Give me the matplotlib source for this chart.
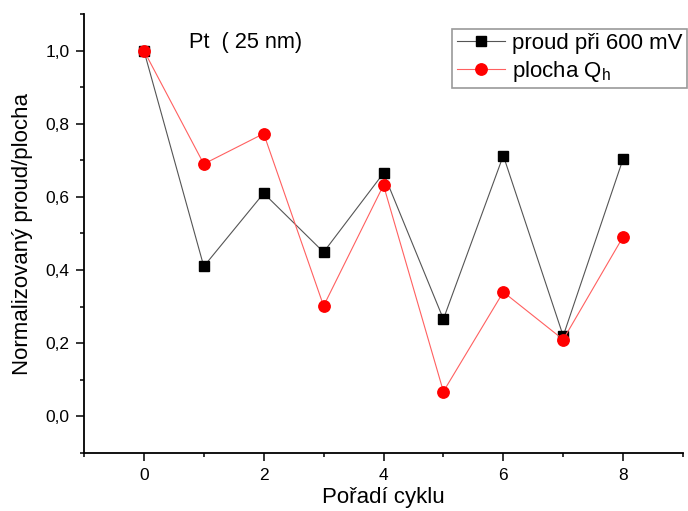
import matplotlib
matplotlib.use("Agg")
import matplotlib.pyplot as plt
from matplotlib.ticker import MultipleLocator, FuncFormatter

plt.rcParams["font.family"] = ["Liberation Sans", "DejaVu Sans"]
plt.rcParams["mathtext.fontset"] = "custom"
plt.rcParams["mathtext.rm"] = "Liberation Sans"
plt.rcParams["mathtext.it"] = "Liberation Sans:italic"

# Cycle number and normalized values
cycles = [0, 1, 2, 3, 4, 5, 6, 7, 8]
proud_600mV = [1.000, 0.410, 0.610, 0.449, 0.665, 0.266, 0.713, 0.220, 0.704]
plocha_Qh = [1.000, 0.690, 0.773, 0.302, 0.632, 0.068, 0.340, 0.210, 0.491]

series_labels = ["proud při 600 mV", "plocha Q$_\\mathregular{h}$"]
title_text = "Pt  ( 25 nm)"
x_label = "Pořadí cyklu"
y_label = "Normalizovaný proud/plocha"

fig = plt.figure(figsize=(6.88, 5.11), dpi=100)
ax = fig.add_axes([84 / 688, 1 - 453 / 511, (683 - 84) / 688, (453 - 14) / 511])

ax.plot(cycles, proud_600mV, color="#555555", lw=0.8, marker="s", ms=6.8,
        mfc="black", mec="black", label=series_labels[0], zorder=3)
ax.plot(cycles, plocha_Qh, color="#ff6060", lw=0.8, marker="o", ms=8.2,
        mfc="red", mec="red", label=series_labels[1], zorder=4)

ax.set_xlim(-1, 9)
ax.set_ylim(-0.1, 1.1)
ax.xaxis.set_major_locator(MultipleLocator(2))
ax.xaxis.set_minor_locator(MultipleLocator(1))
ax.yaxis.set_major_locator(MultipleLocator(0.2))
ax.yaxis.set_minor_locator(MultipleLocator(0.1))
ax.yaxis.set_major_formatter(FuncFormatter(lambda v, p: f"{v:.1f}".replace(".", ",").replace("-0,0", "0,0")))

for side in ("top", "right"):
    ax.spines[side].set_visible(False)
for side in ("left", "bottom"):
    ax.spines[side].set_linewidth(1.3)

ax.tick_params(which="major", direction="out", length=5.5, width=1.1, labelsize=12.5, pad=5)
ax.tick_params(which="minor", direction="out", length=3.2, width=1.1)

ax.set_xlabel(x_label, fontsize=16, labelpad=3)
ax.set_ylabel(y_label, fontsize=16, labelpad=9)

# title placed in figure pixel coordinates
fig.text(246 / 688, 1 - 42.7 / 511, title_text, fontsize=15.7, ha="center", va="center")

leg = ax.legend(loc="upper right", bbox_to_anchor=(687 / 688, 1 - 28.7 / 511),
                bbox_transform=fig.transFigure, fontsize=16, frameon=True,
                fancybox=False, borderpad=0.2, labelspacing=0.2,
                handlelength=2.2, handletextpad=0.3, borderaxespad=0)
leg.get_frame().set_edgecolor("#808080")
leg.get_frame().set_linewidth(1.2)

fig.savefig("out.png", dpi=100)
